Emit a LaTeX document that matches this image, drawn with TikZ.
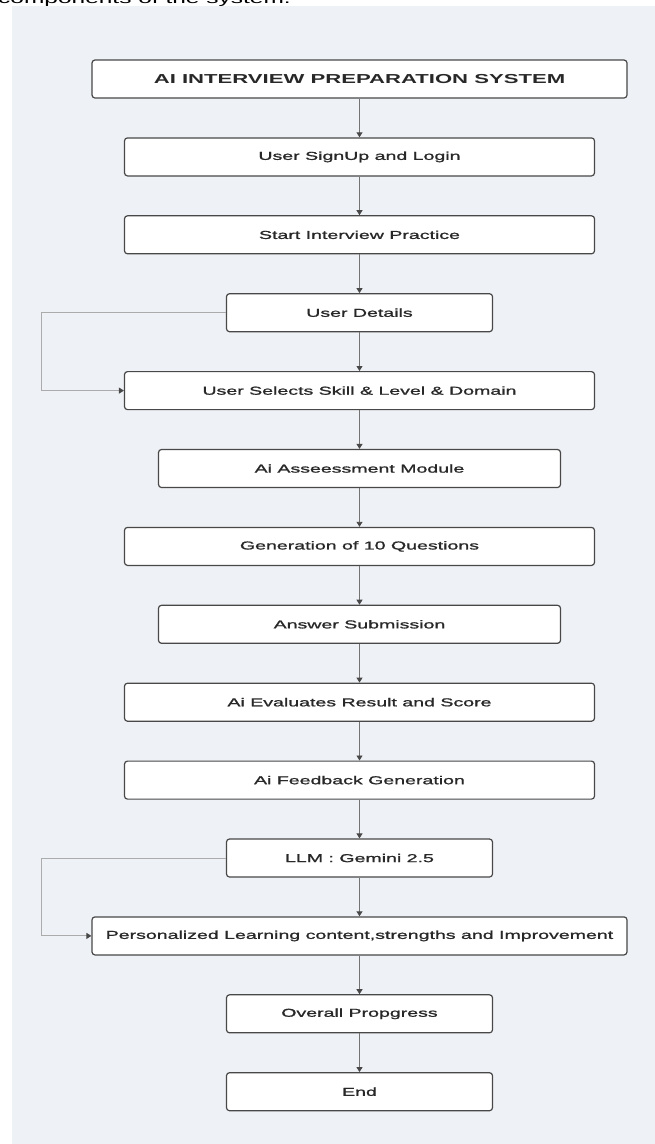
\documentclass[tikz,border=0pt]{standalone}
\usepackage{fontspec}
\setmainfont{Liberation Sans}[FakeStretch=1.7]
\newfontfamily\mediumsans{Liberation Sans}[FakeStretch=1.7, FakeBold=1.3]
\usetikzlibrary{arrows.meta,positioning}
\definecolor{panel}{RGB}{238,241,245}
\definecolor{edge}{RGB}{72,72,72}
\definecolor{ink}{RGB}{40,40,40}
\definecolor{wire}{RGB}{115,115,115}

\begin{document}
\begin{tikzpicture}[x=1pt, y=-1pt,
  stage/.style={draw=edge, line width=1.2pt, rounded corners=3pt, fill=white, text=ink,
               align=center, font=\mediumsans\fontsize{11.5}{13}\selectfont,
               minimum height=38pt, minimum width=470pt, inner sep=0pt},
  mid/.style={stage, minimum width=402pt},
  narrow/.style={stage, minimum width=266pt},
  wide/.style={stage, minimum width=535pt},
  head/.style={wide, font=\fontsize{13}{15}\selectfont\bfseries},
  arr/.style={-{Triangle[length=5pt, width=6pt, color=edge]}, draw=wire, line width=0.9pt},
  back/.style={arr, draw=wire!60},
  node distance=38.7pt
]
\useasboundingbox (0,0) rectangle (655,1144);
\fill[panel] (12,6) rectangle (655,1144);
\begin{scope}
  \clip (0,0) rectangle (655,1144);
  \node[anchor=base west, inner sep=0pt, text=black, font=\fontsize{14.4}{16}\selectfont] (caption) at (-2,3) {components of the system.};
\end{scope}
\node[head] (title) at (359.5,79) {AI INTERVIEW PREPARATION SYSTEM};
\node[stage, below=of title] (login) {User SignUp and Login};
\node[stage, below=of login] (start) {Start Interview Practice};
\node[narrow, below=of start] (details) {User Details};
\node[stage, below=of details] (select) {User Selects Skill \& Level \& Domain};
\node[mid, below=of select] (assess) {Ai Asseessment Module};
\node[stage, below=of assess] (gen) {Generation of 10 Questions};
\node[mid, below=of gen] (answer) {Answer Submission};
\node[stage, below=of answer] (eval) {Ai Evaluates Result and Score};
\node[stage, below=of eval] (feedback) {Ai Feedback Generation};
\node[narrow, below=of feedback] (llm) {LLM : Gemini 2.5};
\node[wide, below=of llm] (learn) {Personalized Learning content,strengths and Improvement};
\node[narrow, below=of learn] (progress) {Overall Propgress};
\node[narrow, below=of progress] (end) {End};
\draw[arr] (title) -- (login);
\draw[arr] (login) -- (start);
\draw[arr] (start) -- (details);
\draw[arr] (details) -- (select);
\draw[arr] (select) -- (assess);
\draw[arr] (assess) -- (gen);
\draw[arr] (gen) -- (answer);
\draw[arr] (answer) -- (eval);
\draw[arr] (eval) -- (feedback);
\draw[arr] (feedback) -- (llm);
\draw[arr] (llm) -- (learn);
\draw[arr] (learn) -- (progress);
\draw[arr] (progress) -- (end);
\draw[back] (details.west) -- ++(-184,0) |- (select.west);
\draw[back] (llm.west) -- ++(-184,0) |- (learn.west);
\end{tikzpicture}
\end{document}
